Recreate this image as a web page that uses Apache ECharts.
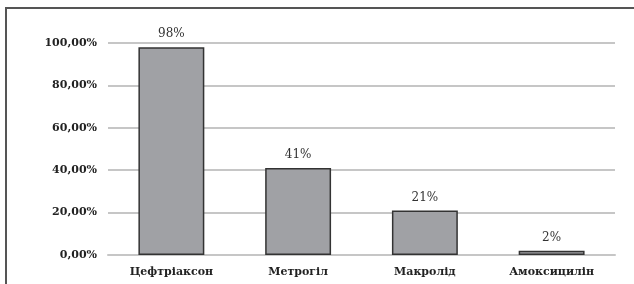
<!DOCTYPE html>
<html>
<head>
<meta charset="utf-8">
<script src="https://cdn.jsdelivr.net/npm/echarts@6/dist/echarts.min.js"></script>
<style>
  html, body { margin: 0; padding: 0; background: #fff; }
  #wrap { position: absolute; left: 0; top: 0; width: 634px; height: 284px; }
  #frame { position: absolute; left: 5px; top: 7px; width: 629px; height: 277px;
           border-top: 2px solid #555; border-left: 2px solid #555; }
  #main { position: absolute; left: 0; top: 0; width: 634px; height: 284px; }
</style>
</head>
<body>
<div id="wrap">
  <div id="frame"></div>
  <div id="main"></div>
</div>
<script>
// дані
var categories = ['Цефтріаксон', 'Метрогіл', 'Макролід', 'Амоксицилін'];
var values = [98, 41, 21, 2];
var yTicks = [0, 20, 40, 60, 80, 100];

var serif = '"DejaVu Serif", "Liberation Serif", serif';

var chart = echarts.init(document.getElementById('main'));

var option = {
    animation: false,
    grid: { left: 108, right: 19, top: 43, bottom: 29 },
    xAxis: {
        type: 'category',
        data: categories,
        axisLine: { show: true, lineStyle: { color: '#c6c6c6', width: 2 } },
        axisTick: { show: false },
        axisLabel: {
            color: '#222', fontFamily: serif, fontWeight: 'bold', fontSize: 11, margin: 12
        }
    },
    yAxis: {
        type: 'value',
        min: yTicks[0],
        max: yTicks[yTicks.length - 1],
        interval: 20,
        axisLine: { show: false },
        axisTick: { show: false },
        splitLine: { lineStyle: { color: '#c6c6c6', width: 2 } },
        axisLabel: {
            color: '#222', fontFamily: serif, fontWeight: 'bold', fontSize: 11, margin: 11,
            formatter: function (v) { return v.toFixed(2).replace('.', ',') + '%'; }
        }
    },
    series: [{
        type: 'bar',
        data: values,
        barWidth: '52%',
        itemStyle: { color: '#a0a1a5', borderColor: '#333', borderWidth: 1.5 },
        label: {
            show: true, position: 'top', distance: 7,
            color: '#333', fontFamily: serif, fontSize: 12,
            formatter: function (p) { return p.value + '%'; }
        }
    }]
};

chart.setOption(option);
</script>
</body>
</html>
